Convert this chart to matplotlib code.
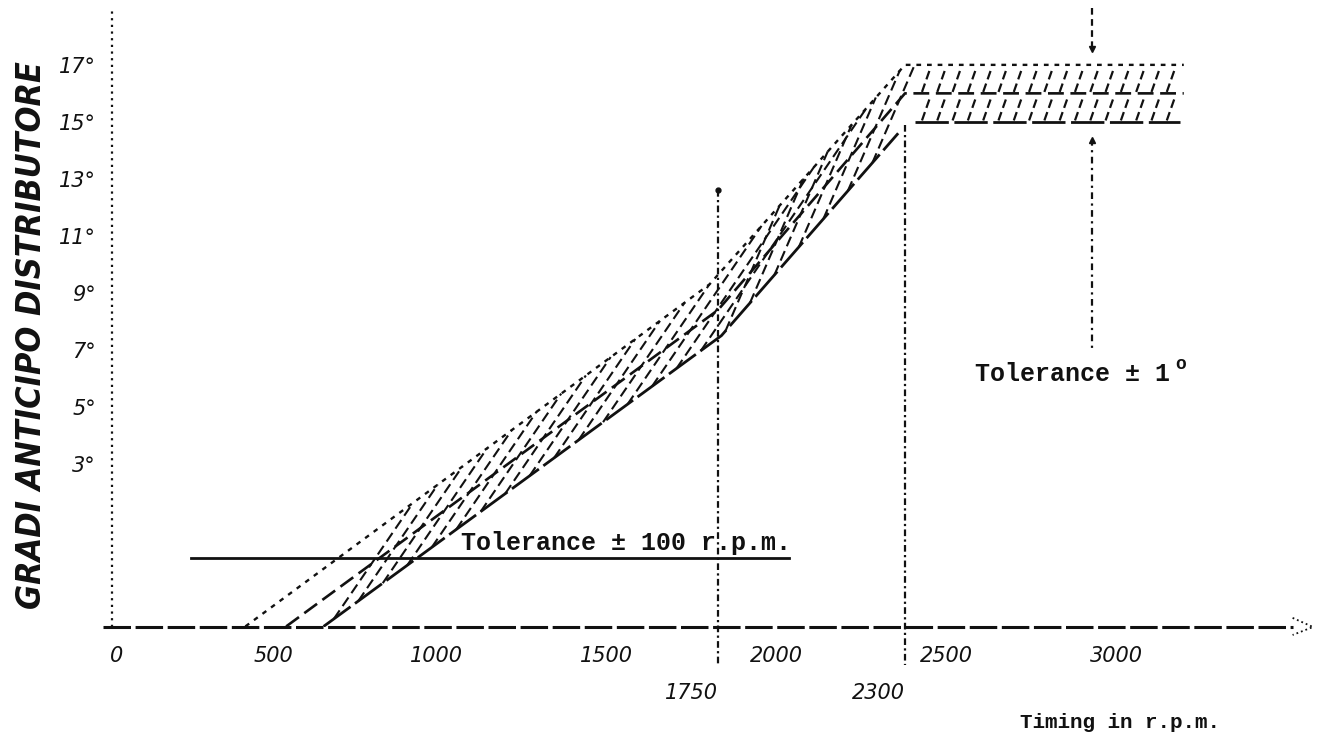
import numpy as np
import matplotlib.pyplot as plt

# distributor advance curve: engine speed (r.p.m.) against advance degrees
nominal_rpm = [480, 1750, 2300, 3120]
nominal_deg = [-2.7, 8.4, 16.0, 16.0]
upper_rpm = [360, 1725, 2300, 3120]
upper_deg = [-2.7, 9.3, 17.0, 17.0]
lower_rpm = [590, 1760, 2280]
lower_deg = [-2.7, 7.5, 14.6]
flat_rpm = [2330, 3110]
flat_lower_deg = [15.0, 15.0]

xticks = [0, 500, 1000, 1500, 2000, 2500, 3000]
xtick_labels = ["0", "500", "1000", "1500", "2000", "2500", "3000"]
marker_rpm = [1750, 2300]
marker_labels = ["1750", "2300"]
yticks = [17, 15, 13, 11, 9, 7, 5, 3]
ytick_labels = ["17°", "15°", "13°", "11°", "9°", "7°", "5°", "3°"]

tol_rpm_level = -0.3      # height of the +/-100 r.p.m. note
tol_deg_rpm = 2850        # where the +/-1 degree arrows sit

INK = "#111111"
MONO = ["Liberation Mono", "DejaVu Sans Mono"]

fig = plt.figure(figsize=(13.29, 7.39), dpi=100)
ax = fig.add_axes([100 / 1329, 112 / 739, 1220 / 1329, 622 / 739])
ax.set_xlim(-67.6, 3520.6)
ax.set_ylim(-2.72, 19.1)
for s in ax.spines.values():
    s.set_visible(False)

# axes drawn by hand, typewriter style
ax.plot([-60, 3440], [-2.72, -2.72], color=INK, lw=2.2, ls=(0, (9, 1.5)), clip_on=False)
ax.plot([3440, 3500, 3440], [-2.4, -2.72, -3.0], color=INK, lw=1.3, ls=":", clip_on=False)
ax.plot([-32, -32], [-2.72, 19.0], color=INK, lw=1.6, ls=(0, (1, 2)), clip_on=False)

# band boundaries
ax.plot(upper_rpm, upper_deg, color=INK, lw=1.7, ls=(0, (2, 2.5)))
ax.plot(nominal_rpm, nominal_deg, color=INK, lw=1.9, ls=(0, (6, 2.5)))
ax.plot(lower_rpm, lower_deg, color=INK, lw=2.0, ls=(0, (12, 2)))
ax.plot(flat_rpm, flat_lower_deg, color=INK, lw=2.0, ls=(0, (12, 2)))

# hatch strokes across the sloping part of the band
def upper(r):
    return np.interp(r, upper_rpm, upper_deg)

def lower(r):
    return np.interp(r, lower_rpm, lower_deg)

grid = np.linspace(300, 2400, 4000)
for r0 in np.arange(620, 2260, 72):
    y0 = lower(r0)
    m = 2.0 * (np.interp(r0 + 1, nominal_rpm, nominal_deg) - np.interp(r0, nominal_rpm, nominal_deg))
    cand = grid[grid > r0]
    gap = y0 + m * (cand - r0) - upper(cand)
    idx = np.argmax(gap >= 0)
    r1 = cand[idx]
    ax.plot([r0, r1], [y0, y0 + m * (r1 - r0)], color=INK, lw=1.5, ls=(0, (5, 2.5)))

# hatch strokes in the flat +/-1 degree band
for base in (15.05, 16.05):
    for r0 in np.arange(2350, 3100, 45):
        ax.plot([r0, r0 + 25], [base, base + 0.85], color=INK, lw=1.6, ls=(0, (4, 2)))

# marker verticals
ax.plot([1750, 1750], [12.6, -4.05], color=INK, lw=1.6, ls=(0, (3, 1.5, 1, 1.5)), clip_on=False)
ax.plot([2300, 2300], [14.9, -4.05], color=INK, lw=1.6, ls=(0, (3, 1.5, 1, 1.5)), clip_on=False)
ax.plot([1750], [12.6], "o", color=INK, ms=3.5)

# +/-1 degree arrows
ax.plot([tol_deg_rpm, tol_deg_rpm], [19.0, 17.5], color=INK, lw=1.6, ls=(0, (3, 2)))
ax.plot([tol_deg_rpm], [17.55], "v", color=INK, ms=4)
ax.plot([tol_deg_rpm, tol_deg_rpm], [14.4, 7.0], color=INK, lw=1.6, ls=(0, (3, 2, 1, 2)))
ax.plot([tol_deg_rpm], [14.35], "^", color=INK, ms=4)

# +/-100 r.p.m. note with its rule
ax.plot([200, 1960], [tol_rpm_level, tol_rpm_level], color=INK, lw=2.0)
ax.text(995, tol_rpm_level + 0.1, "Tolerance ± 100 r.p.m.", family=MONO, weight="bold",
        fontsize=18, color=INK, ha="left", va="bottom")
ax.text(2505, 5.75, "Tolerance ± 1", family=MONO, weight="bold",
        fontsize=18, color=INK, ha="left", va="bottom")
ax.text(3094, 6.2, "o", family=MONO, weight="bold",
        fontsize=13, color=INK, ha="left", va="bottom")

# ticks
ax.set_xticks(xticks, xtick_labels)
ax.set_xticks(marker_rpm, marker_labels, minor=True)
ax.set_yticks(yticks, ytick_labels)
ax.tick_params(axis="both", which="both", length=0, colors=INK, labelsize=15)
ax.tick_params(axis="x", which="major", pad=14)
ax.tick_params(axis="x", which="minor", pad=40)
ax.tick_params(axis="y", pad=3)
for lab in ax.get_xticklabels() + ax.get_xticklabels(minor=True):
    lab.set_ha("right")
    lab.set_style("italic")
for lab in ax.get_yticklabels():
    lab.set_style("italic")

fig.text(1120 / 1329, 1 - 722 / 739, "Timing in r.p.m.", family=MONO, weight="bold",
         fontsize=15, color=INK, ha="center", va="center")
fig.text(32 / 1329, 1 - 335 / 739, "GRADI ANTICIPO DISTRIBUTORE",
         family="DejaVu Sans", stretch="condensed", weight="bold", style="italic",
         fontsize=24.5, color=INK, rotation=90, ha="center", va="center")

fig.savefig("out.png", dpi=100, facecolor="white")
